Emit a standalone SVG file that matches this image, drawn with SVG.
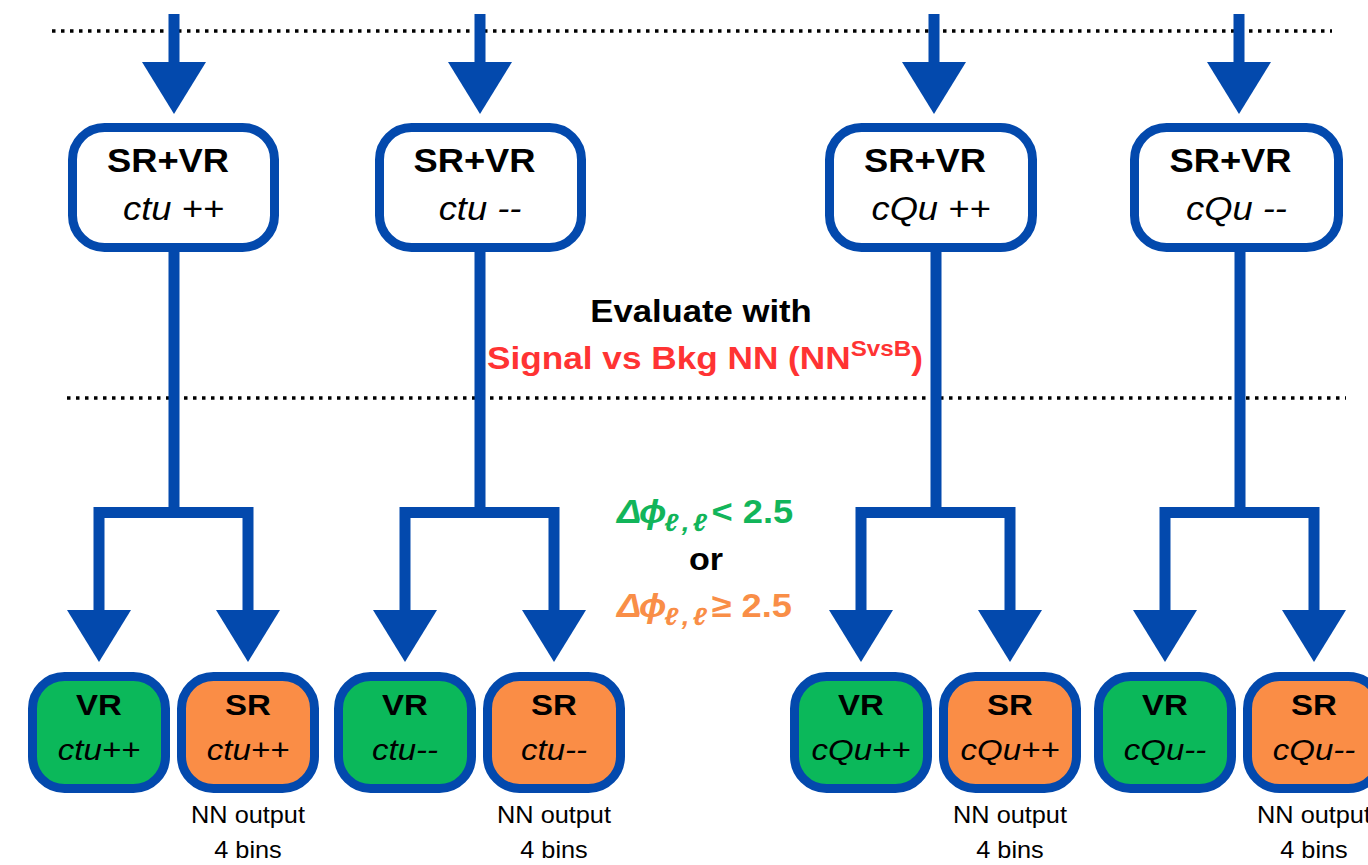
<svg xmlns="http://www.w3.org/2000/svg" width="1368" height="865" viewBox="0 0 1368 865">
<style>
text{font-family:"Liberation Sans",Arial,Helvetica,sans-serif;fill:#000}
.b{font-weight:bold}
.i{font-style:italic}
.c{text-anchor:middle}
.top{fill:#fff;stroke:#0349AD;stroke-width:9}
.vr{fill:#0BB85A;stroke:#0349AD;stroke-width:9}
.sr{fill:#FA8D46;stroke:#0349AD;stroke-width:9}
.wire{fill:none;stroke:#0349AD;stroke-width:11;stroke-linejoin:miter;stroke-linecap:butt}
.head{fill:#0349AD}
.dots{stroke:#000;stroke-width:3.5;stroke-dasharray:3.5 5.5;fill:none}
.t33{font-size:33px}
.t30{font-size:30px}
.t23{font-size:23px}
</style>
<defs>
<polygon id="ah" points="-32,0 32,0 0,52"/>
</defs>

<g id="separators">
<line class="dots" x1="52" y1="31" x2="1332" y2="31"/>
<line class="dots" x1="67" y1="398" x2="1346" y2="398"/>
</g>

<g id="connectors">
<path class="wire" d="M174,14V63 M480,14V63 M934,14V63 M1239,14V63"/>
<use href="#ah" class="head" x="174" y="62"/>
<use href="#ah" class="head" x="480" y="62"/>
<use href="#ah" class="head" x="934" y="62"/>
<use href="#ah" class="head" x="1239" y="62"/>
<path class="wire" d="M174,252V512.5 M99,611V512.5H248V611"/>
<path class="wire" d="M480,252V512.5 M405,611V512.5H554V611"/>
<path class="wire" d="M936,252V512.5 M861,611V512.5H1010V611"/>
<path class="wire" d="M1240,252V512.5 M1165,611V512.5H1314V611"/>
<use href="#ah" class="head" x="99" y="610"/>
<use href="#ah" class="head" x="248" y="610"/>
<use href="#ah" class="head" x="405" y="610"/>
<use href="#ah" class="head" x="554" y="610"/>
<use href="#ah" class="head" x="861" y="610"/>
<use href="#ah" class="head" x="1010" y="610"/>
<use href="#ah" class="head" x="1165" y="610"/>
<use href="#ah" class="head" x="1314" y="610"/>
</g>

<g id="srvr-ctu-pp">
<rect class="top" x="72.5" y="127.5" width="202" height="120" rx="32"/>
<text class="b t33 c" transform="translate(168,172) scale(1.1,1)">SR+VR</text>
<text class="i t33 c" transform="translate(173.5,220) scale(1.1,1)">ctu ++</text>
</g>
<g id="srvr-ctu-mm">
<rect class="top" x="379.5" y="127.5" width="202" height="120" rx="32"/>
<text class="b t33 c" transform="translate(474.5,172) scale(1.1,1)">SR+VR</text>
<text class="i t33 c" transform="translate(480,220) scale(1.1,1)">ctu --</text>
</g>
<g id="srvr-cqu-pp">
<rect class="top" x="829.5" y="127.5" width="203" height="120" rx="32"/>
<text class="b t33 c" transform="translate(925,172) scale(1.1,1)">SR+VR</text>
<text class="i t33 c" transform="translate(931,220) scale(1.1,1)">cQu ++</text>
</g>
<g id="srvr-cqu-mm">
<rect class="top" x="1134.5" y="127.5" width="204" height="120" rx="32"/>
<text class="b t33 c" transform="translate(1230.5,172) scale(1.1,1)">SR+VR</text>
<text class="i t33 c" transform="translate(1236.5,220) scale(1.1,1)">cQu --</text>
</g>

<g id="evaluate-label">
<text class="b c" style="font-size:31.5px" transform="translate(701,322) scale(1.1,1)">Evaluate with</text>
<text class="b" style="font-size:32px;fill:#FF3333" transform="translate(487,369) scale(1.1,1)">Signal vs Bkg NN (NN<tspan style="font-size:22px;fill:#FF3333" dy="-13">SvsB</tspan><tspan dy="13" style="fill:#FF3333">)</tspan></text>
</g>

<g id="cut-label">
<text class="b" style="font-size:33px;fill:#12B55A" transform="translate(617,523) scale(1.1,1)"><tspan class="i" x="0" style="fill:#12B55A">Δ</tspan><tspan class="i" x="20" style="fill:#12B55A">ϕ</tspan><tspan class="i" x="43" dy="8" style="font-size:25px;letter-spacing:3px;fill:#12B55A">ℓ,ℓ</tspan><tspan x="86" dy="-8" style="fill:#12B55A">&lt; 2.5</tspan></text>
<text class="b c" style="font-size:31px" transform="translate(706,570) scale(1.1,1)">or</text>
<text class="b" style="font-size:33px;fill:#F98E47" transform="translate(617,617) scale(1.1,1)"><tspan class="i" x="0" style="fill:#F98E47">Δ</tspan><tspan class="i" x="20" style="fill:#F98E47">ϕ</tspan><tspan class="i" x="43" dy="8" style="font-size:25px;letter-spacing:3px;fill:#F98E47">ℓ,ℓ</tspan><tspan x="86" dy="-8" style="fill:#F98E47">≥ 2.5</tspan></text>
</g>

<g id="vr-ctu-pp">
<rect class="vr" x="32.5" y="676.5" width="133" height="112" rx="32"/>
<text class="b t30 c" transform="translate(99,715) scale(1.1,1)">VR</text>
<text class="i t30 c" transform="translate(99,760) scale(1.1,1)">ctu++</text>
</g>
<g id="sr-ctu-pp">
<rect class="sr" x="181.5" y="676.5" width="133" height="112" rx="32"/>
<text class="b t30 c" transform="translate(248,715) scale(1.1,1)">SR</text>
<text class="i t30 c" transform="translate(248,760) scale(1.1,1)">ctu++</text>
<text class="t23 c" transform="translate(248,823) scale(1.1,1)">NN output</text>
<text class="t23 c" transform="translate(248,858) scale(1.1,1)">4 bins</text>
</g>
<g id="vr-ctu-mm">
<rect class="vr" x="338.5" y="676.5" width="133" height="112" rx="32"/>
<text class="b t30 c" transform="translate(405,715) scale(1.1,1)">VR</text>
<text class="i t30 c" transform="translate(405,760) scale(1.1,1)">ctu--</text>
</g>
<g id="sr-ctu-mm">
<rect class="sr" x="487.5" y="676.5" width="133" height="112" rx="32"/>
<text class="b t30 c" transform="translate(554,715) scale(1.1,1)">SR</text>
<text class="i t30 c" transform="translate(554,760) scale(1.1,1)">ctu--</text>
<text class="t23 c" transform="translate(554,823) scale(1.1,1)">NN output</text>
<text class="t23 c" transform="translate(554,858) scale(1.1,1)">4 bins</text>
</g>
<g id="vr-cqu-pp">
<rect class="vr" x="794.5" y="676.5" width="133" height="112" rx="32"/>
<text class="b t30 c" transform="translate(861,715) scale(1.1,1)">VR</text>
<text class="i t30 c" transform="translate(861,760) scale(1.1,1)">cQu++</text>
</g>
<g id="sr-cqu-pp">
<rect class="sr" x="943.5" y="676.5" width="133" height="112" rx="32"/>
<text class="b t30 c" transform="translate(1010,715) scale(1.1,1)">SR</text>
<text class="i t30 c" transform="translate(1010,760) scale(1.1,1)">cQu++</text>
<text class="t23 c" transform="translate(1010,823) scale(1.1,1)">NN output</text>
<text class="t23 c" transform="translate(1010,858) scale(1.1,1)">4 bins</text>
</g>
<g id="vr-cqu-mm">
<rect class="vr" x="1098.5" y="676.5" width="133" height="112" rx="32"/>
<text class="b t30 c" transform="translate(1165,715) scale(1.1,1)">VR</text>
<text class="i t30 c" transform="translate(1165,760) scale(1.1,1)">cQu--</text>
</g>
<g id="sr-cqu-mm">
<rect class="sr" x="1247.5" y="676.5" width="133" height="112" rx="32"/>
<text class="b t30 c" transform="translate(1314,715) scale(1.1,1)">SR</text>
<text class="i t30 c" transform="translate(1314,760) scale(1.1,1)">cQu--</text>
<text class="t23 c" transform="translate(1314,823) scale(1.1,1)">NN output</text>
<text class="t23 c" transform="translate(1314,858) scale(1.1,1)">4 bins</text>
</g>
</svg>
